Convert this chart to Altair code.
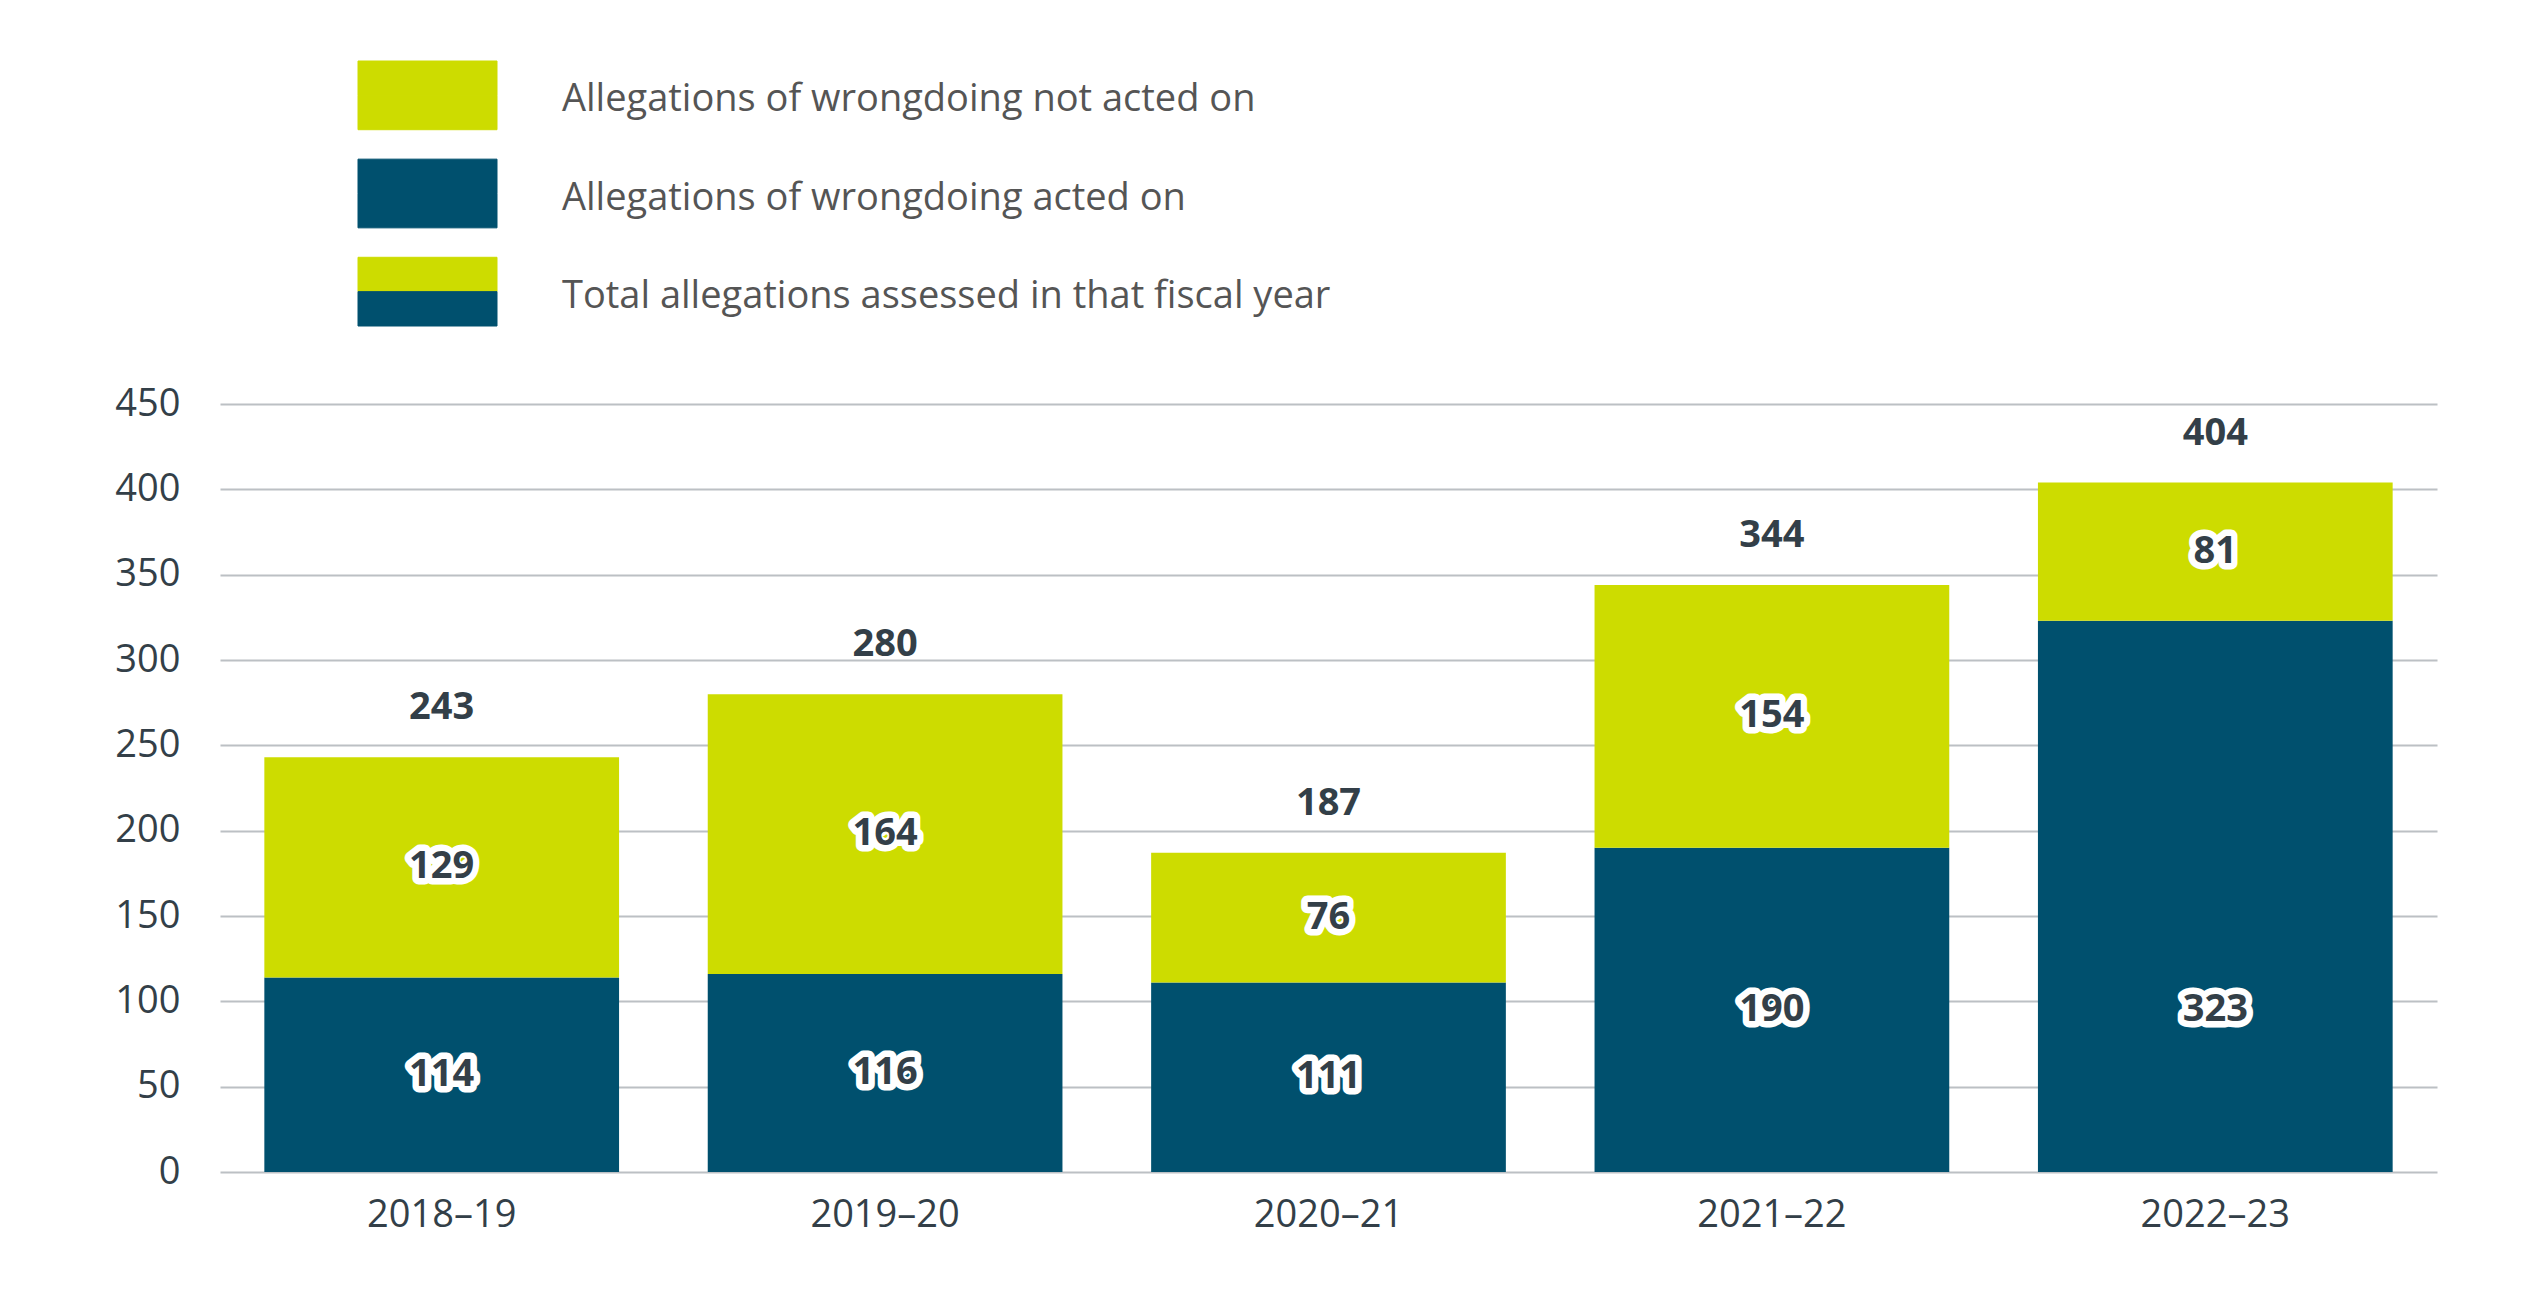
import altair as alt
import pandas as pd

years = ["2018–19", "2019–20", "2020–21", "2021–22", "2022–23"]
acted_on = [114, 116, 111, 190, 323]
not_acted_on = [129, 164, 76, 154, 81]
totals = [243, 280, 187, 344, 404]

series_names = ["Acted on", "Not acted on"]
series_colors = ["#00506E", "#CDDC00"]

legend_labels = [
    "Allegations of wrongdoing not acted on",
    "Allegations of wrongdoing acted on",
    "Total allegations assessed in that fiscal year",
]
legend_top_series = ["Not acted on", "Acted on", "Not acted on"]
legend_bottom_series = ["Not acted on", "Acted on", "Acted on"]

FONT = "Open Sans"
DARK = "#333F48"

rows = []
for i, y in enumerate(years):
    rows.append({"year": y, "series": "Acted on", "value": acted_on[i], "order": 0})
    rows.append({"year": y, "series": "Not acted on", "value": not_acted_on[i], "order": 1})
df = pd.DataFrame(rows)
tot_df = pd.DataFrame({"year": years, "total": totals})

leg_rows = []
for i, lab in enumerate(legend_labels):
    leg_rows.append({"label": lab, "part": "top", "series": legend_top_series[i]})
    leg_rows.append({"label": lab, "part": "bottom", "series": legend_bottom_series[i]})
leg_df = pd.DataFrame(leg_rows)

color_scale = alt.Scale(domain=series_names, range=series_colors)

x_enc = alt.X("year:N", sort=years, title=None,
              scale=alt.Scale(paddingInner=0.2, paddingOuter=0.1),
              axis=alt.Axis(labelAngle=0, ticks=False, domain=False, labelPadding=24,
                            labelFontSize=38, labelColor=DARK, labelFont=FONT, grid=False))
y_scale = alt.Scale(domain=[0, 450])

# label anchor: acted-on labels sit no higher than the 95 level (as in the original)
base = alt.Chart(df).transform_stack(
    stack="value", groupby=["year"], as_=["y0", "y1"], sort=[alt.SortField("order")]
).transform_calculate(
    mid="datum.order == 0 ? min((datum.y0 + datum.y1) / 2, 95) : (datum.y0 + datum.y1) / 2"
)

bars = base.mark_bar().encode(
    x=x_enc,
    y=alt.Y("y0:Q", scale=y_scale, title=None,
            axis=alt.Axis(values=list(range(0, 451, 50)), ticks=False, domain=False,
                          labelPadding=40, labelFontSize=38, labelColor=DARK, labelFont=FONT,
                          grid=True, gridColor="#BCC0C4", gridWidth=2)),
    y2="y1:Q",
    color=alt.Color("series:N", scale=color_scale, legend=None),
)

halo = base.mark_text(fontSize=38, fontWeight="bold", font=FONT, baseline="middle",
                      fill="white", stroke="white", strokeWidth=13, strokeJoin="round").encode(
    x=alt.X("year:N", sort=years),
    y=alt.Y("mid:Q", scale=y_scale),
    text="value:Q",
)
seg_labels = base.mark_text(fontSize=38, fontWeight="bold", font=FONT, baseline="middle",
                            color=DARK).encode(
    x=alt.X("year:N", sort=years),
    y=alt.Y("mid:Q", scale=y_scale),
    text="value:Q",
)
tot_labels = alt.Chart(tot_df).mark_text(fontSize=38, fontWeight="bold", font=FONT,
                                         baseline="middle", dy=-49, color=DARK).encode(
    x=alt.X("year:N", sort=years),
    y=alt.Y("total:Q", scale=y_scale),
    text="total:Q",
)

main = alt.layer(bars, halo, seg_labels, tot_labels).properties(width=2217, height=768)

leg_y = alt.Y("label:N", sort=legend_labels, axis=None,
              scale=alt.Scale(paddingInner=0.3, paddingOuter=0))
leg_bars = alt.Chart(leg_df).mark_bar(strokeWidth=1).encode(
    y=leg_y,
    yOffset=alt.YOffset("part:N", sort=["top", "bottom"],
                        scale=alt.Scale(paddingInner=0, paddingOuter=0)),
    x=alt.value(138),
    x2=alt.value(277),
    color=alt.Color("series:N", scale=color_scale, legend=None),
    stroke=alt.Stroke("series:N", scale=color_scale, legend=None),
)
leg_text = alt.Chart(leg_df).transform_filter(alt.datum.part == "top").mark_text(
    align="left", baseline="middle", fontSize=38, font=FONT, color="#555555", dy=5
).encode(
    y=leg_y,
    x=alt.value(342),
    text="label:N",
)
legend = alt.layer(leg_bars, leg_text).properties(width=2217, height=265)

chart = alt.vconcat(legend, main, spacing=78, bounds="flush").properties(
    padding={"left": 106, "top": 52, "right": 5, "bottom": 5},
    background="white",
).configure_view(stroke=None)

chart.save("out.html", embed_options={"renderer": "svg", "actions": False})
